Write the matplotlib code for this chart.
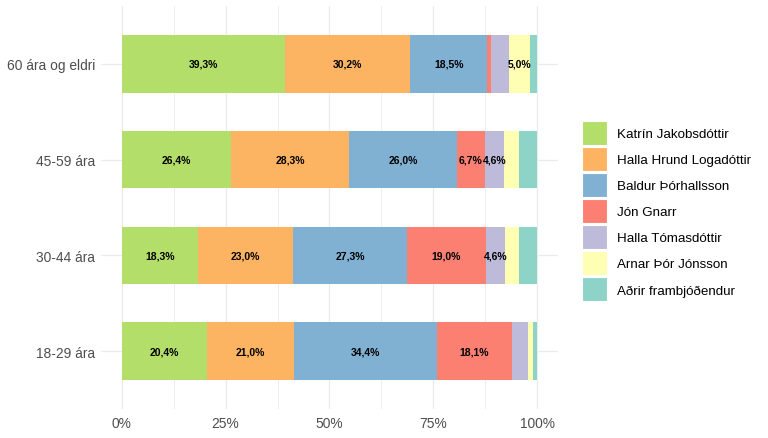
import numpy as np
import matplotlib.pyplot as plt
from matplotlib.patches import Patch

#%% DATOS
aldur = ['18-29 ára', '30-44 ára', '45-59 ára', '60 ára og eldri']
frambjodendur = ['Katrín Jakobsdóttir', 'Halla Hrund Logadóttir', 'Baldur Þórhallsson',
                 'Jón Gnarr', 'Halla Tómasdóttir', 'Arnar Þór Jónsson', 'Aðrir frambjóðendur']

# hlutfall (%) fyrir hvern aldurshóp, í sömu röð og aldur
katrin = [20.4, 18.3, 26.4, 39.3]
halla_hrund = [21.0, 23.0, 28.3, 30.2]
baldur = [34.4, 27.3, 26.0, 18.5]
jon = [18.1, 19.0, 6.7, 1.0]
halla_t = [4.0, 4.6, 4.6, 4.2]
arnar = [1.2, 3.5, 3.6, 5.0]
adrir = [0.9, 4.3, 4.4, 1.8]

litir = ['#B3DE69', '#FDB462', '#80B1D3', '#FB8072', '#BEBADA', '#FFFFB3', '#8DD3C7']

gogn = np.array([katrin, halla_hrund, baldur, jon, halla_t, arnar, adrir])
# position = "fill"
gogn = gogn / gogn.sum(axis=0)

#%% MYND
plt.rcParams['font.family'] = ['Liberation Sans', 'DejaVu Sans']
fig = plt.figure(figsize=(7.68, 4.39), dpi=100)
ax = fig.add_axes([0.1315, 0.067, 0.595, 0.916])

y = np.arange(len(aldur))
vinstri = np.zeros(len(aldur))
for i in range(len(frambjodendur)):
    ax.barh(y, gogn[i], left=vinstri, height=0.6, color=litir[i], zorder=2)
    for j in range(len(aldur)):
        gildi = gogn[i][j] * 100
        if gildi >= 4.5:
            ax.text(vinstri[j] + gogn[i][j] / 2, y[j], f'{gildi:.1f}%'.replace('.', ','),
                    ha='center', va='center', fontsize=7.5, fontweight='bold',
                    color='black', zorder=3)
    vinstri = vinstri + gogn[i]

ax.set_xlim(-0.05, 1.05)
ax.set_ylim(-0.6, len(aldur) - 0.4)
ax.set_yticks(y)
ax.set_yticklabels(aldur)
ax.set_xticks([0, 0.25, 0.5, 0.75, 1.0])
ax.set_xticklabels(['0%', '25%', '50%', '75%', '100%'])
ax.set_xticks([0.125, 0.375, 0.625, 0.875], minor=True)

# theme_minimal
ax.grid(True, which='major', color='#EBEBEB', linewidth=0.9, zorder=0)
ax.grid(True, which='minor', axis='x', color='#EBEBEB', linewidth=0.6, zorder=0)
ax.set_axisbelow(True)
for s in ax.spines.values():
    s.set_visible(False)
ax.tick_params(which='both', length=0, labelsize=9.9, labelcolor='#4D4D4D')
ax.tick_params(axis='y', pad=4)
ax.tick_params(axis='x', pad=5)

handles = [Patch(facecolor=litir[i], edgecolor='white', linewidth=0.8) for i in range(len(frambjodendur))]
fig.legend(handles, frambjodendur, loc='upper left', bbox_to_anchor=(582 / 768, 1 - 122 / 439),
           frameon=False, fontsize=9.6, handlelength=1.85, handleheight=2.4,
           handletextpad=0.75, labelspacing=0.15, borderpad=0, borderaxespad=0)

plt.savefig('out.png', dpi=100)
